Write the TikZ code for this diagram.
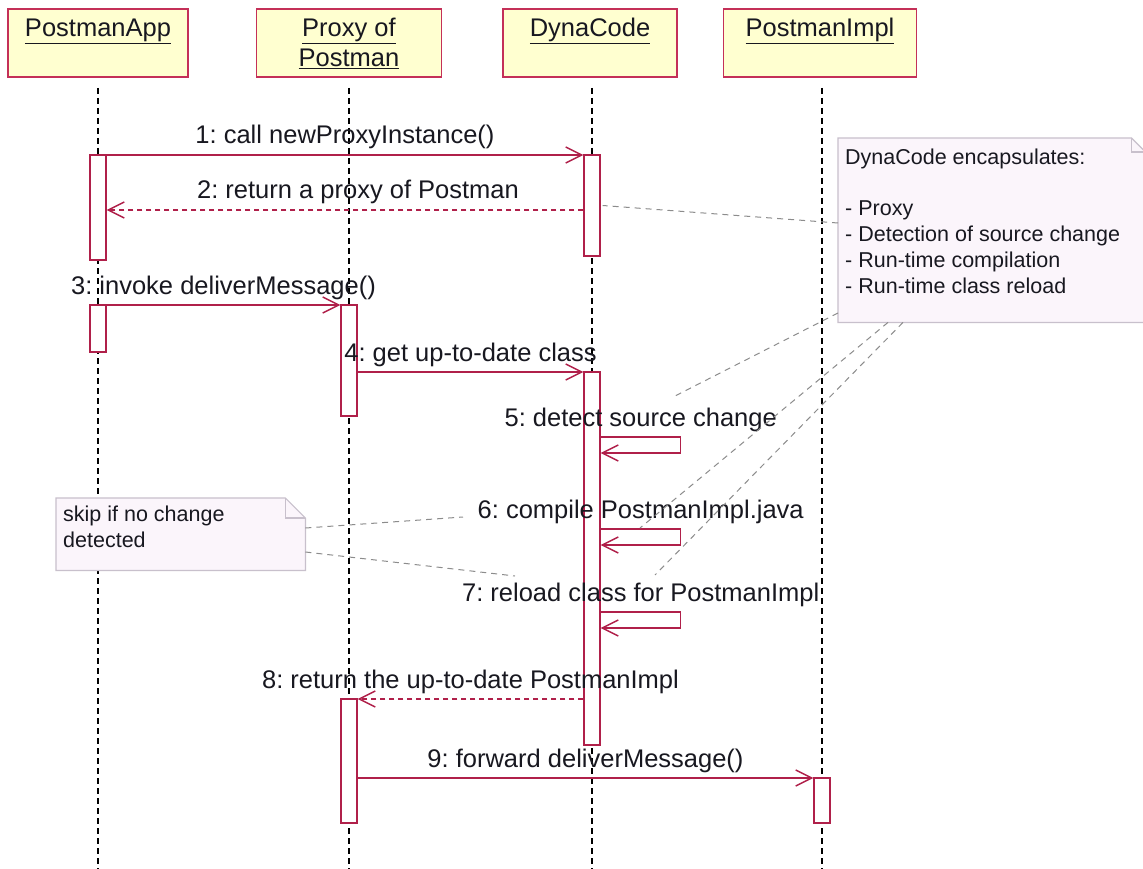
\documentclass[tikz,border=0pt]{standalone}
\usepackage{fontspec}
\setmainfont{Liberation Sans}
\usetikzlibrary{arrows.meta}
\frenchspacing

\definecolor{msgred}{RGB}{176,32,74}
\definecolor{headfill}{RGB}{255,255,208}
\definecolor{headline}{RGB}{196,48,88}
\definecolor{notefill}{RGB}{251,245,251}
\definecolor{noteline}{RGB}{200,192,204}
\definecolor{linkgray}{RGB}{140,140,140}
\definecolor{inkdark}{RGB}{24,24,32}

\begin{document}
\begin{tikzpicture}[x=1pt,y=-1pt,
  head/.style={draw=headline, line width=1.8pt, fill=headfill,
    minimum width=#1, minimum height=68pt, inner sep=0pt},
  headtext/.style={font=\fontsize{25.5}{30}\selectfont, text=inkdark,
    inner sep=0pt, anchor=base},
  lifeline/.style={draw=black, line width=1.5pt, dash pattern=on 6pt off 4pt},
  act/.style={draw=msgred, line width=1.4pt, fill=white,
    minimum width=16pt, inner sep=0pt},
  msg/.style={draw=msgred, line width=1.4pt,
    -{Straight Barb[length=16pt,width=16pt]}},
  reply/.style={msg, dash pattern=on 5pt off 4pt},
  msglabel/.style={font=\fontsize{25.5}{30}\selectfont, text=inkdark,
    inner sep=0pt, anchor=base, yshift=11pt},
  notebody/.style={fill=notefill, draw=none, inner sep=0pt, anchor=north west},
  noteedge/.style={draw=noteline, line width=1.2pt},
  notetext/.style={font=\fontsize{21.5}{25.8}\selectfont, text=inkdark,
    inner sep=0pt, anchor=base west, align=left},
  notelink/.style={draw=linkgray, line width=1pt, dash pattern=on 6pt off 5pt}]

\useasboundingbox (0,0) rectangle (1143,869);
\fill[white] (0,0) rectangle (1143,869);

% message levels
\coordinate (m1) at (0,155);
\coordinate (m2) at (0,210);
\coordinate (m3) at (0,305);
\coordinate (m4) at (0,372);
\coordinate (m5) at (0,437);
\coordinate (m6) at (0,529);
\coordinate (m7) at (0,612);
\coordinate (m8) at (0,699);
\coordinate (m9) at (0,778);

% lifeline heads
\node[head=180pt] (app)   at (98,43)  {};
\node[head=185pt] (proxy) at (349,43) {};
\node[head=174pt] (dyna)  at (590,43) {};
\node[head=193pt] (impl)  at (820,43) {};

\node[headtext] (appname)    at (98,37)  {\underline{PostmanApp}};
\node[headtext] (proxyname1) at (349,37) {\underline{Proxy of}};
\node[headtext] (proxyname2) at (349,67) {\underline{Postman}};
\node[headtext] (dynaname)   at (590,37) {\underline{DynaCode}};
\node[headtext] (implname)   at (820,37) {\underline{PostmanImpl}};

% lifelines
\draw[lifeline] (98,88)  -- (98,869);
\draw[lifeline] (349,88) -- (349,869);
\draw[lifeline] (592,88) -- (592,869);
\draw[lifeline] (822,88) -- (822,869);

% activation bars
\node[act, minimum height=105pt] (a1) at (98,207.5)  {};
\node[act, minimum height=47pt]  (a2) at (98,328.5)  {};
\node[act, minimum height=101pt] (d1) at (592,205.5) {};
\node[act, minimum height=111pt] (p1) at (349,360.5) {};
\node[act, minimum height=373pt] (d2) at (592,558.5) {};
\node[act, minimum height=124pt] (p2) at (349,761)   {};
\node[act, minimum height=45pt]  (i1) at (822,800.5) {};

% messages
\draw[msg] (a1.east |- m1) -- node[msglabel] {1: call newProxyInstance()} (d1.west |- m1);
\draw[reply] (d1.west |- m2) -- node[msglabel, xshift=13pt] {2: return a proxy of Postman} (a1.east |- m2);
\draw[msg] (a2.east |- m3) -- node[msglabel] {3: invoke deliverMessage()} (p1.west |- m3);
\draw[msg] (p1.east |- m4) -- node[msglabel] {4: get up-to-date class} (d2.west |- m4);
\draw[msg] (d2.east |- m5) -- node[msglabel] {5: detect source change} ++(80,0) -- ++(0,16) -- ([yshift=-16pt]d2.east |- m5);
\draw[msg] (d2.east |- m6) -- node[msglabel] {6: compile PostmanImpl.java} ++(80,0) -- ++(0,16) -- ([yshift=-16pt]d2.east |- m6);
\draw[msg] (d2.east |- m7) -- node[msglabel] {7: reload class for PostmanImpl} ++(80,0) -- ++(0,16) -- ([yshift=-16pt]d2.east |- m7);
\draw[reply] (d2.west |- m8) -- node[msglabel] {8: return the up-to-date PostmanImpl} (p2.east |- m8);
\draw[msg] (p2.east |- m9) -- node[msglabel] {9: forward deliverMessage()} (i1.west |- m9);

% note: what DynaCode encapsulates
\node[notebody, minimum width=307pt, minimum height=184pt] (n1) at (838,138) {};
\fill[white] ([xshift=-14pt]n1.north east) -- (n1.north east) -- ([yshift=-14pt]n1.north east) -- cycle;
\draw[noteedge] (n1.north west) -- ([xshift=-14pt]n1.north east) -- ([yshift=-14pt]n1.north east)
  -- (n1.south east) -- (n1.south west) -- cycle;
\draw[noteedge] ([xshift=-14pt]n1.north east) -- ++(0,14) -- ([yshift=-14pt]n1.north east);
% base west of a multi-line node sits on its last line
\node[notetext] (n1text) at (845,293) {DynaCode encapsulates:\\[25.8pt]
  - Proxy\\- Detection of source change\\- Run-time compilation\\- Run-time class reload};

% note: skipped steps
\node[notebody, minimum width=249pt, minimum height=72pt] (n2) at (56,498) {};
\fill[white] ([xshift=-20pt]n2.north east) -- (n2.north east) -- ([yshift=-20pt]n2.north east) -- cycle;
\draw[noteedge] (n2.north west) -- ([xshift=-20pt]n2.north east) -- ([yshift=-20pt]n2.north east)
  -- (n2.south east) -- (n2.south west) -- cycle;
\draw[noteedge] ([xshift=-20pt]n2.north east) -- ++(0,20) -- ([yshift=-20pt]n2.north east);
\node[notetext] (n2text) at (63,547) {skip if no change\\detected};

% free ends of the note links
\coordinate (e5) at (673,397);
\coordinate (e6) at (640,528);
\coordinate (e7) at (655,575);
\coordinate (s6) at (463,517);
\coordinate (s7) at (515,576);

\draw[notelink] ([yshift=-85pt]n1.north west) -- ([xshift=2pt]d1.east);
\draw[notelink] ([yshift=-175pt]n1.north west) -- (e5);
\draw[notelink] ([xshift=50pt]n1.south west) -- (e6);
\draw[notelink] ([xshift=65pt]n1.south west) -- (e7);
\draw[notelink] ([yshift=-30pt]n2.north east) -- (s6);
\draw[notelink] ([yshift=-54pt]n2.north east) -- (s7);
\end{tikzpicture}
\end{document}
